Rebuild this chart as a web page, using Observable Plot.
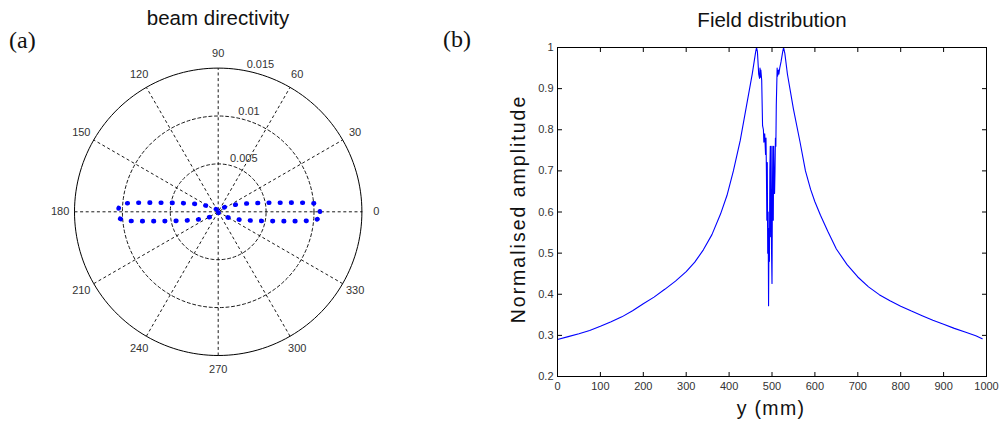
<!DOCTYPE html>
<html>
<head>
<meta charset="utf-8">
<script src="https://cdn.jsdelivr.net/npm/d3@7"></script>
<script src="https://cdn.jsdelivr.net/npm/@observablehq/plot@0.6"></script>
<style>
  html, body { margin: 0; padding: 0; background: #fff; }
  #fig { position: relative; width: 1004px; height: 428px; overflow: hidden; background: #fff; }
  #fig svg { position: absolute; top: 0; }
  .lbl { position: absolute; white-space: nowrap; transform: translate(-50%, -50%); color: #111;
         font-family: "Liberation Sans", Arial, sans-serif; line-height: 1; }
  .tag { position: absolute; white-space: nowrap; font-family: "Liberation Serif", "Times New Roman", serif;
         font-size: 24px; color: #111; line-height: 1; }
</style>
</head>
<body>
<div id="fig"></div>
<script>
// ---- (a) beam directivity: polar pattern ----
const beamAngle = [
  0, 2, 4, 5, 6, 7, 8, 10, 12, 15, 18, 22, 27, 35, 45, 60, 75, 90,
  105, 120, 135, 145, 153, 158, 162, 165, 168, 170, 172, 173, 174, 175, 176, 178, 180,
  182, 184, 185, 186, 187, 188, 190, 192, 195, 198, 202, 207, 215, 225, 240, 255, 270,
  285, 300, 315, 325, 333, 338, 342, 345, 348, 350, 352, 353, 354, 355, 356, 358, 360
];
const beamR = [
  0.01062, 0.01058, 0.01038, 0.01005, 0.00905, 0.00782, 0.00683, 0.00542, 0.00443, 0.00341, 0.00272, 0.00201, 0.00142, 0.00086, 0.00049, 0.00024, 0.00009, 0.00002,
  0.00009, 0.00024, 0.00050, 0.00087, 0.00143, 0.00203, 0.00275, 0.00343, 0.00446, 0.00545, 0.00686, 0.00786, 0.00900, 0.00990, 0.01025, 0.01040, 0.01042,
  0.01040, 0.01028, 0.01000, 0.00915, 0.00800, 0.00700, 0.00560, 0.00458, 0.00352, 0.00282, 0.00208, 0.00147, 0.00089, 0.00051, 0.00025, 0.00010, 0.00002,
  0.00010, 0.00025, 0.00051, 0.00089, 0.00147, 0.00208, 0.00282, 0.00352, 0.00458, 0.00560, 0.00700, 0.00800, 0.00915, 0.01010, 0.01045, 0.01060, 0.01062
];
const radialTicks = [0.005, 0.01, 0.015];
const spokeAngles = [0, 30, 60, 90, 120, 150];
const angleLabels = [0, 30, 60, 90, 120, 150, 180, 210, 240, 270, 300, 330];

// ---- (b) field distribution ----
const fieldY = [
  0, 25, 50, 75, 100, 125, 150, 175, 200, 225, 250, 275, 300, 320, 340, 360, 380, 395, 410, 426, 440, 454, 462, 464,
  466, 469, 471, 472, 473, 474, 476, 478, 480, 481, 483, 485, 486, 487, 488, 489, 490, 491, 492, 493, 494, 495, 496, 497,
  498, 499, 500, 501, 502, 503, 504, 505, 506, 507, 508, 509, 510, 512, 513, 515, 516, 518, 521, 525, 527,
  530, 536, 550, 565, 578, 590, 600, 613, 630, 650, 675, 700, 725, 750, 775, 800, 825, 850, 875, 900, 925, 950, 975, 990
];
const fieldAmp = [
  0.290, 0.297, 0.304, 0.312, 0.322, 0.333, 0.345, 0.360, 0.377, 0.393, 0.412, 0.432, 0.455, 0.478, 0.508, 0.545, 0.595, 0.640, 0.700, 0.774, 0.855, 0.936, 0.990, 1.000,
  0.990, 0.935, 0.925, 0.950, 0.928, 0.945, 0.920, 0.810, 0.800, 0.770, 0.790, 0.740, 0.780, 0.700, 0.580, 0.720, 0.500, 0.600, 0.372, 0.560, 0.480, 0.700, 0.760, 0.540,
  0.760, 0.500, 0.426, 0.650, 0.760, 0.580, 0.760, 0.660, 0.645, 0.700, 0.780, 0.760, 0.860, 0.950, 0.930, 0.945, 0.935, 0.950, 0.965, 0.990, 1.000,
  0.985, 0.935, 0.850, 0.772, 0.700, 0.655, 0.625, 0.592, 0.553, 0.510, 0.472, 0.442, 0.418, 0.399, 0.384, 0.371, 0.359, 0.348, 0.337, 0.327, 0.317, 0.308, 0.299, 0.292
];
const xTicks = [0, 100, 200, 300, 400, 500, 600, 700, 800, 900, 1000];
const yTicks = [0.2, 0.3, 0.4, 0.5, 0.6, 0.7, 0.8, 0.9, 1];

const fig = document.getElementById("fig");
const rad = Math.PI / 180;
const dash = "3,2.6";

// polar panel
const rMax = radialTicks[radialTicks.length - 1];
const rInc = radialTicks[0];
const ringPts = [];
for (const r of radialTicks) {
  for (let a = 0; a <= 360; a += 2) ringPts.push({ring: r, x: r * Math.cos(a * rad), y: r * Math.sin(a * rad)});
}
const beam = beamAngle.map((a, i) => ({angle: a, r: beamR[i]}));

const polar = Plot.plot({
  width: 420, height: 428,
  marginLeft: 74, marginRight: 58.6, marginTop: 67.6, marginBottom: 73,
  x: {domain: [-rMax, rMax], axis: null},
  y: {domain: [-rMax, rMax], axis: null},
  style: {fontFamily: "'Liberation Sans', Arial, sans-serif", fontSize: "11px", background: "transparent", overflow: "visible", color: "#333"},
  marks: [
    Plot.line(ringPts.filter(d => d.ring < rMax), {x: "x", y: "y", z: "ring", stroke: "#000", strokeWidth: 0.9, strokeDasharray: dash}),
    Plot.link(spokeAngles, {
      x1: a => -rMax * Math.cos(a * rad), y1: a => -rMax * Math.sin(a * rad),
      x2: a => rMax * Math.cos(a * rad), y2: a => rMax * Math.sin(a * rad),
      stroke: "#000", strokeWidth: 0.9, strokeDasharray: dash
    }),
    Plot.line(ringPts.filter(d => d.ring === rMax), {x: "x", y: "y", stroke: "#000", strokeWidth: 1}),
    Plot.text(angleLabels, {
      x: a => 1.1 * rMax * Math.cos(a * rad), y: a => 1.1 * rMax * Math.sin(a * rad),
      text: a => String(a), fill: "#333"
    }),
    Plot.text(radialTicks, {
      x: r => (r + rInc / 20) * Math.cos(80 * rad), y: r => (r + rInc / 20) * Math.sin(80 * rad),
      text: r => "\u00a0" + String(r), textAnchor: "start", lineAnchor: "bottom", fill: "#333"
    }),
    Plot.line(beam, {
      x: d => d.r * Math.cos(d.angle * rad), y: d => d.r * Math.sin(d.angle * rad),
      stroke: "#0000ff", strokeWidth: 4.6, strokeDasharray: "0.6,10.6", strokeLinecap: "round", strokeLinejoin: "round"
    })
  ]
});
polar.style.left = "0px";
fig.appendChild(polar);

// field distribution panel
const field = fieldY.map((y, i) => ({y, amp: fieldAmp[i]}));
const W = 574, H = 428, mL = 127, mR = 18, mT = 47, mB = 52;
const xDom = [0, 1000], yDom = [0.2, 1];
const tickPx = 4.5;
const tx = tickPx * (xDom[1] - xDom[0]) / (W - mL - mR);
const ty = tickPx * (yDom[1] - yDom[0]) / (H - mT - mB);

const line = Plot.plot({
  width: W, height: H, marginLeft: mL, marginRight: mR, marginTop: mT, marginBottom: mB,
  x: {domain: xDom, ticks: xTicks, tickSize: 0, tickPadding: 6, tickFormat: d => String(d), label: null},
  y: {domain: yDom, ticks: yTicks, tickSize: 0, tickPadding: 4, tickFormat: d => String(d), label: null},
  style: {fontFamily: "'Liberation Sans', Arial, sans-serif", fontSize: "11px", background: "transparent", overflow: "visible", color: "#333"},
  marks: [
    Plot.link(xTicks, {x1: d => d, x2: d => d, y1: yDom[0], y2: yDom[0] + ty, stroke: "#000"}),
    Plot.link(xTicks, {x1: d => d, x2: d => d, y1: yDom[1], y2: yDom[1] - ty, stroke: "#000"}),
    Plot.link(yTicks, {y1: d => d, y2: d => d, x1: xDom[0], x2: xDom[0] + tx, stroke: "#000"}),
    Plot.link(yTicks, {y1: d => d, y2: d => d, x1: xDom[1], x2: xDom[1] - tx, stroke: "#000"}),
    Plot.line(field, {x: "y", y: "amp", stroke: "#0000ff", strokeWidth: 1.1}),
    Plot.frame({stroke: "#000", strokeWidth: 1})
  ]
});
line.style.left = "430px";
fig.appendChild(line);

// titles, axis labels and panel tags
function label(text, cx, cy, size, rotate, spacing) {
  const el = document.createElement("div");
  el.className = "lbl";
  el.textContent = text;
  el.style.left = cx + "px";
  el.style.top = cy + "px";
  el.style.fontSize = size + "px";
  if (spacing) el.style.letterSpacing = spacing + "px";
  if (rotate) el.style.transform = "translate(-50%, -50%) rotate(" + rotate + "deg)";
  fig.appendChild(el);
}
function tag(text, x, y) {
  const el = document.createElement("div");
  el.className = "tag";
  el.textContent = text;
  el.style.left = x + "px";
  el.style.top = y + "px";
  fig.appendChild(el);
}
label("beam directivity", 218, 18, 20.5);
label("Field distribution", 772, 20, 20.5);
label("y (mm)", 771, 409, 19.5, 0, 1.3);
label("Normalised amplitude", 519, 209, 19.5, -90, 2);
tag("(a)", 9, 28);
tag("(b)", 443, 27);
</script>
</body>
</html>
